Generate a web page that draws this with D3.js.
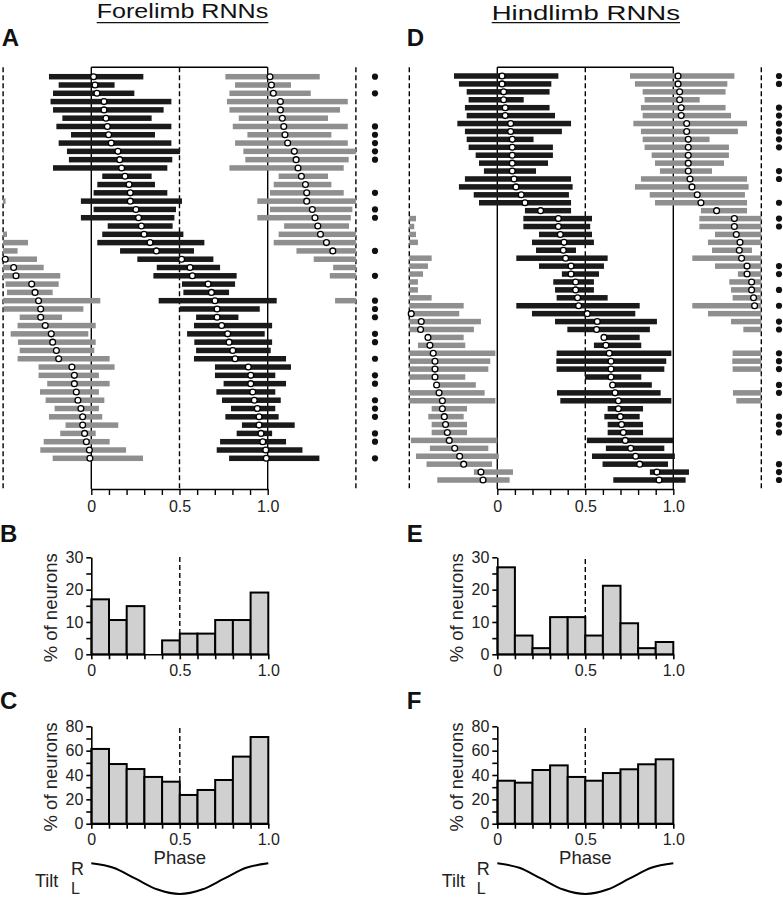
<!DOCTYPE html>
<html>
<head>
<meta charset="utf-8">
<script src="https://cdn.jsdelivr.net/npm/d3@7"></script>
<style>
  html, body { margin: 0; padding: 0; background: #fff; }
  svg { display: block; font-family: "Liberation Sans", Arial, Helvetica, sans-serif; }
</style>
</head>
<body>
<div id="chart"></div>
<script>
// ---------------- DATA ----------------
// Panel A (Forelimb RNNs): preferred phase, activity start, activity end, marker dot
const phaseA = [0.013,0.021,0.032,0.072,0.072,0.083,0.091,0.098,0.113,0.151,0.161,0.172,0.191,0.214,0.221,0.221,0.253,0.268,0.284,0.299,0.333,0.369,0.512,0.560,0.573,0.662,0.681,0.701,0.713,0.713,0.739,0.773,0.781,0.802,0.815,0.890,0.904,0.904,0.915,0.924,0.941,0.951,0.951,0.962,0.972,0.989,0.992];
const startA = [-0.240,-0.185,-0.217,-0.231,-0.217,-0.164,-0.198,-0.115,-0.185,-0.138,-0.127,-0.217,0.062,0.034,0.013,-0.059,0.013,-0.059,0.093,0.062,0.034,0.163,0.261,0.371,0.352,0.514,0.522,0.382,0.503,0.594,0.582,0.543,0.584,0.594,0.582,0.701,0.701,0.750,0.709,0.741,0.792,0.760,0.854,0.824,0.730,0.711,0.781];
const endA   = [0.295,0.132,0.244,0.454,0.410,0.342,0.454,0.361,0.454,0.503,0.459,0.431,0.342,0.361,0.431,0.514,0.480,0.471,0.461,0.522,0.641,0.582,0.692,0.730,0.824,0.815,0.781,1.051,0.955,0.834,1.025,0.983,1.025,1.017,1.104,1.132,1.043,1.104,1.043,1.074,1.043,1.062,1.153,1.025,1.104,1.197,1.293];
const dotA   = [1,0,1,0,0,0,1,1,1,1,1,0,0,0,1,0,1,1,0,0,0,1,0,0,1,0,0,1,1,1,0,1,1,0,1,0,1,1,0,1,1,1,0,1,1,0,1];

// Panel D (Hindlimb RNNs)
const phaseD = [0.027,0.027,0.036,0.036,0.045,0.045,0.076,0.076,0.085,0.085,0.085,0.085,0.085,0.095,0.106,0.136,0.157,0.246,0.347,0.347,0.358,0.379,0.375,0.388,0.419,0.419,0.445,0.445,0.456,0.462,0.511,0.568,0.564,0.606,0.617,0.636,0.646,0.646,0.646,0.655,0.669,0.688,0.688,0.699,0.706,0.716,0.727,0.758,0.786,0.809,0.907,0.919];
const startD = [-0.246,-0.218,-0.174,-0.163,-0.184,-0.174,-0.227,-0.184,-0.174,-0.163,-0.123,-0.104,-0.076,-0.184,-0.218,-0.134,-0.104,0.157,0.148,0.148,0.237,0.197,0.220,0.108,0.237,0.367,0.318,0.328,0.337,0.108,0.197,0.328,0.398,0.608,0.549,0.337,0.335,0.337,0.498,0.660,0.339,0.358,0.627,0.608,0.627,0.627,0.509,0.617,0.538,0.598,0.867,0.659];
const endD   = [0.347,0.307,0.297,0.150,0.297,0.328,0.419,0.367,0.206,0.316,0.316,0.288,0.220,0.419,0.428,0.407,0.419,0.419,0.538,0.528,0.538,0.549,0.447,0.627,0.606,0.578,0.549,0.549,0.627,0.809,0.784,0.907,0.867,0.809,0.818,0.989,0.960,0.949,0.818,0.878,0.928,0.989,0.828,0.809,0.828,0.828,1.000,0.949,1.009,0.970,1.089,1.070];
const dotD   = [1,1,0,0,1,1,1,1,1,1,0,0,1,1,0,0,1,0,1,1,0,0,0,0,1,1,0,1,0,1,0,1,1,0,0,1,1,1,0,1,1,0,0,1,1,1,0,0,0,1,1,1];

// Histograms (10 phase bins of 0.1)
const binStarts = [0,0.1,0.2,0.3,0.4,0.5,0.6,0.7,0.8,0.9];
const histB = [17.0,10.6,14.9,0,4.3,6.4,6.4,10.6,10.6,19.1];
const histC = [61.4,49.0,44.9,38.4,34.5,23.6,27.7,35.9,55.1,71.2];
const histE = [26.9,5.8,1.9,11.5,11.5,5.8,21.2,9.6,1.9,3.8];
const histF = [35.3,33.7,44.1,47.9,38.4,35.3,41.6,44.7,48.8,52.9];

// Tick labels
const phaseTickLabels = {"0":"0","0.5":"0.5","1":"1.0"};
const yLabelsSmall = [0,10,20,30];
const yLabelsLarge = [0,20,40,60,80];

// Tilt schematic (R = +1, L = -1)
const tiltPhase = [0,0.125,0.25,0.375,0.5,0.625,0.75,0.875,1];
const tiltLevel = [1,0.71,0,-0.71,-1,-0.71,0,0.71,1];

// ---------------- DRAW ----------------
const W = 783, H = 899;
const svg = d3.select("#chart").append("svg").attr("width", W).attr("height", H);
const BLACK = "#1a1a1a", GRAY = "#8f8f8f", HISTFILL = "#d0d0d0", TXT = "#222";

function fmtPhase(d) {
  const k = String(Math.round(d * 10) / 10);
  return phaseTickLabels[k] !== undefined ? phaseTickLabels[k] : "";
}

function phasePanel(o) {
  const g = svg.append("g");
  const x = d3.scaleLinear().domain([0, 1]).range([o.x0, o.x1]);
  const n = o.phase.length;
  const y = d3.scalePoint().domain(d3.range(n)).range([o.yFirst, o.yLast]);
  const top = o.top, bot = o.bot;

  g.append("line").attr("x1", x(0)).attr("x2", x(1)).attr("y1", top).attr("y2", top)
    .attr("stroke", "#000").attr("stroke-width", 1.4);
  [0, 1].forEach(v => g.append("line").attr("x1", x(v)).attr("x2", x(v)).attr("y1", top).attr("y2", bot)
    .attr("stroke", "#000").attr("stroke-width", 1.4));
  [-0.5, 0.5, 1.5].forEach(v => g.append("line").attr("x1", x(v)).attr("x2", x(v)).attr("y1", top).attr("y2", bot)
    .attr("stroke", "#000").attr("stroke-width", 1.4).attr("stroke-dasharray", "5,3"));

  const ax = d3.axisBottom(x).tickValues(d3.range(0, 11).map(i => i / 10))
    .tickSize(6).tickSizeOuter(0).tickPadding(6).tickFormat(fmtPhase);
  const axg = g.append("g").attr("transform", `translate(0,${bot})`).call(ax);
  axg.selectAll("path,line").attr("stroke", "#000").attr("stroke-width", 1.4);
  axg.selectAll("text").attr("font-size", 16).attr("fill", TXT)
    .style("font-family", "Liberation Sans, Arial, sans-serif");

  const bars = [], circles = [];
  for (let i = 0; i < n; i++) {
    [-1, 0, 1].forEach(sh => {
      const s = Math.max(o.start[i] + sh, -0.5), e = Math.min(o.end[i] + sh, 1.5);
      if (e > s) bars.push({ i, s, e, black: sh === 0 });
      const c = o.phase[i] + sh;
      if (c >= -0.51 && c <= 1.51) circles.push({ i, c });
    });
  }
  g.selectAll("rect.bar").data(bars).join("rect").attr("class", "bar")
    .attr("x", d => x(d.s)).attr("width", d => x(d.e) - x(d.s))
    .attr("y", d => y(d.i) - 2.75).attr("height", 5.5)
    .attr("fill", d => d.black ? BLACK : GRAY);
  g.selectAll("circle.ph").data(circles).join("circle").attr("class", "ph")
    .attr("cx", d => x(d.c)).attr("cy", d => y(d.i)).attr("r", 2.9)
    .attr("fill", "#fff").attr("stroke", "#000").attr("stroke-width", 1.3);
  g.selectAll("circle.dot").data(d3.range(n).filter(i => o.dot[i])).join("circle").attr("class", "dot")
    .attr("cx", o.dotX).attr("cy", i => y(i)).attr("r", 3.1).attr("fill", "#111");
}

phasePanel({ phase: phaseA, start: startA, end: endA, dot: dotA,
  x0: 91.3, x1: 267.7, yFirst: 76.7, yLast: 458.3, top: 67.3, bot: 489, dotX: 375 });
phasePanel({ phase: phaseD, start: startD, end: endD, dot: dotD,
  x0: 497.3, x1: 673.3, yFirst: 76, yLast: 480, top: 67.3, bot: 489, dotX: 779 });

function histPanel(o) {
  const g = svg.append("g");
  const x = d3.scaleLinear().domain([0, 1]).range([o.x0, o.x1]);
  const y = d3.scaleLinear().domain([0, o.ymax]).range([o.y0, o.y1]);
  g.append("line").attr("x1", x(0.5)).attr("x2", x(0.5)).attr("y1", o.dashTop).attr("y2", o.y0)
    .attr("stroke", "#000").attr("stroke-width", 1.4).attr("stroke-dasharray", "5,3");
  g.selectAll("rect").data(binStarts.map((b, i) => ({ b, v: o.values[i] })).filter(d => d.v > 0))
    .join("rect")
    .attr("x", d => x(d.b)).attr("width", d => x(d.b + 0.1) - x(d.b))
    .attr("y", d => y(d.v)).attr("height", d => y(0) - y(d.v))
    .attr("fill", HISTFILL).attr("stroke", "#000").attr("stroke-width", 2);
  const xa = d3.axisBottom(x).tickValues(d3.range(0, 11).map(i => i / 10))
    .tickSize(5).tickSizeOuter(0).tickPadding(5).tickFormat(fmtPhase);
  const xg = g.append("g").attr("transform", `translate(0,${o.y0})`).call(xa);
  const ya = d3.axisLeft(y).tickValues(d3.range(0, o.ymax + 0.1, o.minor))
    .tickSize(5).tickSizeOuter(0).tickPadding(3)
    .tickFormat(d => o.labels.includes(d) ? String(d) : "");
  const yg = g.append("g").attr("transform", `translate(${o.x0},0)`).call(ya);
  [xg, yg].forEach(a => {
    a.selectAll("path,line").attr("stroke", "#000").attr("stroke-width", 1.6);
    a.selectAll("text").attr("font-size", 16).attr("fill", TXT)
      .style("font-family", "Liberation Sans, Arial, sans-serif");
  });
  svg.append("text").attr("transform", `translate(${o.titleX},${(o.y0 + o.y1) / 2 + 2}) rotate(-90)`)
    .attr("text-anchor", "middle").attr("font-size", 18.5).attr("fill", TXT).text("% of neurons");
}

histPanel({ values: histB, x0: 91.3, x1: 268.3, y0: 654.3, y1: 557.3, ymax: 30, minor: 5, labels: yLabelsSmall, dashTop: 557, titleX: 56.5 });
histPanel({ values: histC, x0: 91.3, x1: 268.3, y0: 823.7, y1: 726.3, ymax: 80, minor: 10, labels: yLabelsLarge, dashTop: 728, titleX: 56.5 });
histPanel({ values: histE, x0: 497.3, x1: 673.3, y0: 654.3, y1: 557.3, ymax: 30, minor: 5, labels: yLabelsSmall, dashTop: 559, titleX: 463 });
histPanel({ values: histF, x0: 497.3, x1: 673.3, y0: 823.7, y1: 726.3, ymax: 80, minor: 10, labels: yLabelsLarge, dashTop: 728, titleX: 463 });

function tilt(o) {
  const x = d3.scaleLinear().domain([0, 1]).range([o.x0, o.x1]);
  const y = d3.scaleLinear().domain([-1, 1]).range([894, 863.3]);
  svg.append("text").attr("x", (o.x0 + o.x1) / 2).attr("y", 864).attr("text-anchor", "middle")
    .attr("font-size", 18.5).attr("fill", TXT).text("Phase");
  svg.append("path").datum(tiltPhase.map((p, i) => [p, tiltLevel[i]]))
    .attr("d", d3.line().x(d => x(d[0])).y(d => y(d[1])).curve(d3.curveMonotoneX))
    .attr("fill", "none").attr("stroke", "#000").attr("stroke-width", 2);
  svg.append("text").attr("x", o.tiltX).attr("y", 887).attr("font-size", 18).attr("fill", TXT).text("Tilt");
  svg.append("text").attr("x", o.rX).attr("y", 875).attr("font-size", 18).attr("fill", TXT).text("R");
  svg.append("text").attr("x", o.rX).attr("y", 894).attr("font-size", 16).attr("fill", TXT).text("L");
}
tilt({ x0: 91.3, x1: 268.3, tiltX: 35, rX: 71 });
tilt({ x0: 497.3, x1: 673.3, tiltX: 441.7, rX: 476.7 });

function title(txt, x0, x1, base) {
  svg.append("text").attr("x", x0).attr("y", base).attr("font-size", 21).attr("fill", "#111")
    .attr("textLength", x1 - x0).attr("lengthAdjust", "spacingAndGlyphs").text(txt);
  svg.append("line").attr("x1", x0).attr("x2", x1).attr("y1", 22.7).attr("y2", 22.7)
    .attr("stroke", "#111").attr("stroke-width", 1.3);
}
title("Forelimb RNNs", 96.7, 268.3, 18.3);
title("Hindlimb RNNs", 491.7, 680, 19.5);

const letters = [["A", 1.7, 46], ["B", 0, 542], ["C", 0, 709], ["D", 406.7, 46], ["E", 406.7, 542], ["F", 406.7, 709]];
svg.selectAll("text.letter").data(letters).join("text").attr("class", "letter")
  .attr("x", d => d[1]).attr("y", d => d[2]).attr("font-size", 24).attr("font-weight", "bold")
  .attr("fill", "#111").text(d => d[0]);
</script>
</body>
</html>
